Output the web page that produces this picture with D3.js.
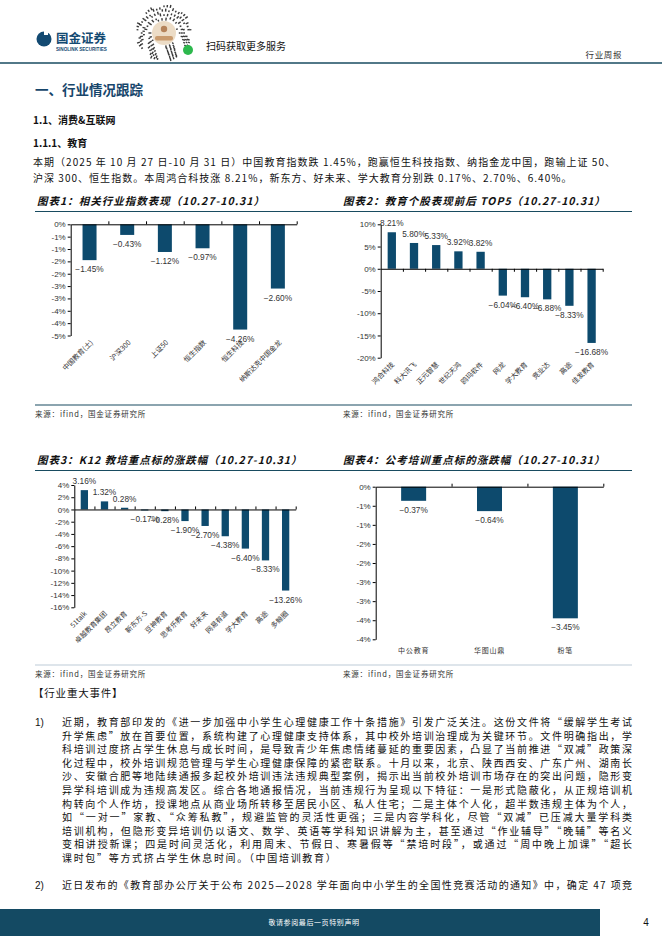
<!DOCTYPE html>
<html>
<head>
<meta charset="utf-8">
<script src="https://cdn.jsdelivr.net/npm/d3@7"></script>
<style>
  body { margin: 0; background: #fff; }
  svg { display: block; }
</style>
</head>
<body>
<svg id="page" width="662" height="936"></svg>
<script>
// chart 1: 相关行业指数表现
const idxNames = ['中国教育(土)', '沪深300', '上证50', '恒生指数', '恒生科技', '纳斯达克中国金龙']
const idxValues = [-1.45, -0.43, -1.12, -0.97, -4.26, -2.60]
const idxTicks = [0, -0.5, -1, -1.5, -2, -2.5, -3, -3.5, -4, -4.5]
const idxTickLabels = ['0%', '-1%', '-1%', '-2%', '-2%', '-3%', '-3%', '-4%', '-4%', '-5%']

// chart 2: 教育个股表现前后 TOP5
const stockNames = ['鸿合科技', '科大讯飞', '正元智慧', '世纪天鸿', '鸥玛软件', '网龙', '学大教育', '竞业达', '高途', '佳发教育']
const stockValues = [8.21, 5.80, 5.33, 3.92, 3.82, -6.04, -6.40, -6.88, -8.33, -16.68]
const stockTicks = [10, 5, 0, -5, -10, -15, -20]
const stockTickLabels = ['10%', '5%', '0%', '-5%', '-10%', '-15%', '-20%']

// chart 3: K12 教培重点标的
const k12Names = ['51talk', '卓越教育集团', '昂立教育', '新东方-S', '豆神教育', '思考乐教育', '好未来', '网易有道', '学大教育', '高途', '多鲸圈']
const k12Values = [3.16, 1.32, 0.28, -0.17, -0.28, -1.90, -2.70, -4.38, -6.40, -8.33, -13.26]
const k12Ticks = [4, 2, 0, -2, -4, -6, -8, -10, -12, -14, -16]
const k12TickLabels = ['4%', '2%', '0%', '-2%', '-4%', '-6%', '-8%', '-10%', '-12%', '-14%', '-16%']

// chart 4: 公考培训重点标的
const civilNames = ['中公教育', '华图山鼎', '粉笔']
const civilValues = [-0.37, -0.64, -3.45]
const civilTicks = [0, -0.5, -1, -1.5, -2, -2.5, -3, -3.5, -4]
const civilTickLabels = ['0%', '-1%', '-1%', '-2%', '-2%', '-3%', '-3%', '-4%', '-4%']

const CN = "'Noto Sans CJK SC', 'Noto Sans', sans-serif"
const NUM = "'Liberation Sans', Arial, sans-serif"
const BLUE = '#0d4a6d'
const TEAL = '#184b60'

const svg = d3.select('#page')

// ---------- page header ----------
const head = svg.append('g')
head.append('circle').attr('cx', 44).attr('cy', 39).attr('r', 7.5).attr('fill', '#134a72')
head.append('rect').attr('x', 44).attr('y', 30).attr('width', 4).attr('height', 5).attr('fill', '#fff')
head.append('text').attr('x', 56).attr('y', 43).text('国金证券')
  .attr('font-family', CN).attr('font-weight', 700).attr('font-size', 12.5).attr('fill', '#134a72')
head.append('text').attr('x', 56).attr('y', 51).text('SINOLINK SECURITIES')
  .attr('font-family', NUM).attr('font-weight', 700).attr('font-size', 4.6).attr('fill', '#134a72')

// mini-program code (decorative)
const qr = head.append('g').attr('transform', 'translate(164,33)')
for (let ring = 0; ring < 7; ring++) {
  const r = 13.5 + ring * 2.2
  const n = 22 + ring * 5
  for (let k = 0; k < n; k++) {
    if ((k * 7 + ring * 5) % 6 > 2) {
      const a = (k / n) * Math.PI * 2
      const cx = Math.cos(a) * r, cy = Math.sin(a) * r
      qr.append('rect').attr('x', cx - 0.9).attr('y', cy - 0.7)
        .attr('width', 1.8 + (k % 3) * 0.6).attr('height', 1.4).attr('fill', '#3a3a3a')
        .attr('transform', `rotate(${a * 180 / Math.PI},${cx},${cy})`)
    }
  }
}
qr.append('circle').attr('r', 12).attr('fill', '#ecdcc6')
qr.append('circle').attr('r', 3.2).attr('cy', -4).attr('fill', '#b5835a')
qr.append('rect').attr('x', -9).attr('y', 3).attr('width', 18).attr('height', 4.5).attr('rx', 2).attr('fill', '#c99b6e')
head.append('circle').attr('cx', 188).attr('cy', 50).attr('r', 5).attr('fill', '#2db84d')

head.append('text').attr('x', 206).attr('y', 50).text('扫码获取更多服务')
  .attr('font-family', CN).attr('font-size', 10).attr('fill', '#111')
head.append('text').attr('x', 622).attr('y', 58).attr('text-anchor', 'end').text('行业周报')
  .attr('font-family', CN).attr('font-size', 8.5).attr('letter-spacing', 0.6).attr('fill', '#333')
head.append('line').attr('x1', 0).attr('x2', 662).attr('y1', 63).attr('y2', 63)
  .attr('stroke', TEAL).attr('stroke-width', 1.6)

// ---------- headings & intro ----------
svg.append('text').attr('x', 35).attr('y', 95).text('一、行业情况跟踪')
  .attr('font-family', CN).attr('font-weight', 700).attr('font-size', 13.5).attr('fill', '#17466b')
svg.append('text').attr('x', 33).attr('y', 124).text('1.1、消费&互联网')
  .attr('font-family', CN).attr('font-weight', 700).attr('font-size', 10).attr('fill', '#111')
svg.append('text').attr('x', 33).attr('y', 147).text('1.1.1、教育')
  .attr('font-family', CN).attr('font-weight', 700).attr('font-size', 10).attr('fill', '#111')

const textLine = (x, y, s) => svg.append('text').attr('x', x).attr('y', y).text(s)
  .attr('font-family', CN).attr('font-size', 10).attr('fill', '#111')

// justified lines, last line keeps the same spacing without stretching
const paragraph = (x, y0, step, lines, width, lastFree) => {
  const gaps = []
  const nodes = lines.map((s, i) => textLine(x, y0 + i * step, s))
  nodes.forEach((t, i) => {
    if (lastFree && i === lines.length - 1) return
    const w = t.node().getComputedTextLength()
    gaps.push((width - w) / lines[i].length)
    t.attr('textLength', width).attr('lengthAdjust', 'spacing')
  })
  if (lastFree) nodes[lines.length - 1].attr('letter-spacing', d3.mean(gaps))
}

paragraph(33, 166, 16, [
  '本期（2025 年 10 月 27 日-10 月 31 日）中国教育指数跌 1.45%，跑赢恒生科技指数、纳指金龙中国，跑输上证 50、',
  '沪深 300、恒生指数。本周鸿合科技涨 8.21%，新东方、好未来、学大教育分别跌 0.17%、2.70%、6.40%。'
], 582, true)

// ---------- chart frames ----------
const chartTitle = (x, y, s) => svg.append('text').attr('x', x).attr('y', y).text(s)
  .attr('font-family', CN).attr('font-weight', 700).attr('font-style', 'italic')
  .attr('font-size', 10.5).attr('letter-spacing', 1).attr('fill', '#111')

chartTitle(37, 205, '图表1：相关行业指数表现（10.27-10.31）')
chartTitle(343, 205, '图表2：教育个股表现前后 TOP5（10.27-10.31）')
chartTitle(37, 464, '图表3：K12 教培重点标的涨跌幅（10.27-10.31）')
chartTitle(343, 464, '图表4：公考培训重点标的涨跌幅（10.27-10.31）')

const hline = (x1, x2, y, color, w) => svg.append('line')
  .attr('x1', x1).attr('x2', x2).attr('y1', y).attr('y2', y)
  .attr('stroke', color).attr('stroke-width', w)

hline(35, 632, 211.5, TEAL, 1.2)
hline(35, 632, 405, TEAL, 1.2)
hline(35, 632, 470.5, TEAL, 1.2)
hline(35, 632, 665, '#d3dde4', 1.5)

const source = (x, y) => svg.append('text').attr('x', x).attr('y', y).text('来源：ifind，国金证券研究所')
  .attr('font-family', CN).attr('font-size', 7.5).attr('letter-spacing', 0.8).attr('fill', '#333')
source(35, 417); source(343, 417); source(35, 677); source(343, 677)

// ---------- bar chart ----------
const drawBars = cfg => {
  const g = svg.append('g')
  const x = d3.scaleBand().domain(cfg.cats).range([cfg.left, cfg.right]).padding(0)
  const y = d3.scaleLinear().domain(cfg.domain).range([cfg.top, cfg.bottom])
  const bw = x.bandwidth()

  g.selectAll('rect.bar')
    .data(cfg.values)
    .enter()
    .append('rect')
    .attr('x', (d, i) => x(cfg.cats[i]) + (bw - cfg.barW) / 2)
    .attr('y', d => Math.min(y(d), y(0)))
    .attr('width', cfg.barW)
    .attr('height', d => Math.abs(y(d) - y(0)))
    .attr('fill', BLUE)

  // y axis
  const yAxis = g.append('g').attr('transform', `translate(${cfg.left},0)`)
    .call(d3.axisLeft(y).tickValues(cfg.ticks).tickFormat((d, i) => cfg.tickLabels[i]).tickSize(3).tickSizeOuter(0))
  yAxis.select('.domain').attr('stroke', '#000').attr('stroke-width', 1)
  yAxis.selectAll('.tick line').attr('stroke', '#000')
  yAxis.selectAll('.tick text').attr('font-family', NUM).attr('font-size', 8).attr('fill', '#333').attr('x', -5)

  // category axis at zero
  const bx = d3.scaleLinear().domain([0, cfg.cats.length]).range([cfg.left, cfg.right])
  const axisGen = cfg.tickDown ? d3.axisBottom(bx) : d3.axisTop(bx)
  const xAxis = g.append('g').attr('transform', `translate(0,${y(0)})`)
    .call(axisGen.tickValues(d3.range(1, cfg.cats.length + 1)).tickFormat('').tickSize(3).tickSizeOuter(0))
  xAxis.select('.domain').attr('stroke', '#000').attr('stroke-width', 1)
  xAxis.selectAll('.tick line').attr('stroke', '#000')

  // value labels
  g.selectAll('text.val')
    .data(cfg.values)
    .enter()
    .append('text')
    .attr('x', (d, i) => x(cfg.cats[i]) + bw / 2)
    .attr('y', d => d >= 0 ? y(d) - 6 : y(d) + 12)
    .attr('text-anchor', 'middle')
    .attr('font-family', NUM).attr('font-size', 8.3).attr('fill', '#333')
    .text(d => d3.format('.2f')(d) + '%')

  // category labels
  const cl = g.selectAll('text.cat')
    .data(cfg.cats)
    .enter()
    .append('text')
    .attr('font-family', CN).attr('font-size', 7).attr('fill', '#333')
    .text(d => d)
  if (cfg.rotate) {
    cl.attr('text-anchor', 'end')
      .attr('transform', d => `translate(${x(d) + bw / 2 + cfg.labelDx},${cfg.labelY}) rotate(-45)`)
  } else {
    cl.attr('text-anchor', 'middle').attr('letter-spacing', 0.8)
      .attr('x', d => x(d) + bw / 2)
      .attr('y', cfg.labelY)
  }
}

drawBars({
  cats: idxNames, values: idxValues, ticks: idxTicks, tickLabels: idxTickLabels,
  domain: [0, -4.5], left: 70.7, right: 296.7, top: 224.3, bottom: 335.5,
  barW: 14, rotate: true, labelDx: 4, labelY: 343
})

drawBars({
  cats: stockNames, values: stockValues, ticks: stockTicks, tickLabels: stockTickLabels,
  domain: [10, -20], left: 380.7, right: 602.7, top: 224.3, bottom: 357.7,
  barW: 8.3, rotate: true, tickDown: true, labelDx: 3, labelY: 365
})

drawBars({
  cats: k12Names, values: k12Values, ticks: k12Ticks, tickLabels: k12TickLabels,
  domain: [4, -16], left: 74.3, right: 295.7, top: 485, bottom: 607.3,
  barW: 7.3, rotate: true, labelDx: 3, labelY: 614
})

drawBars({
  cats: civilNames, values: civilValues, ticks: civilTicks, tickLabels: civilTickLabels,
  domain: [0, -4], left: 375.7, right: 603.3, top: 486.7, bottom: 639.3,
  barW: 25, rotate: false, labelY: 653
})

// ---------- events ----------
svg.append('text').attr('x', 33).attr('y', 697).text('【行业重大事件】')
  .attr('font-family', CN).attr('font-size', 10.5).attr('letter-spacing', 0.8).attr('fill', '#111')

const evLines = [
  '近期，教育部印发的《进一步加强中小学生心理健康工作十条措施》引发广泛关注。这份文件将“缓解学生考试',
  '升学焦虑”放在首要位置，系统构建了心理健康支持体系，其中校外培训治理成为关键环节。文件明确指出，学',
  '科培训过度挤占学生休息与成长时间，是导致青少年焦虑情绪蔓延的重要因素，凸显了当前推进“双减”政策深',
  '化过程中，校外培训规范管理与学生心理健康保障的紧密联系。十月以来，北京、陕西西安、广东广州、湖南长',
  '沙、安徽合肥等地陆续通报多起校外培训违法违规典型案例，揭示出当前校外培训市场存在的突出问题，隐形变',
  '异学科培训成为违规高发区。综合各地通报情况，当前违规行为呈现以下特征：一是形式隐蔽化，从正规培训机',
  '构转向个人作坊，授课地点从商业场所转移至居民小区、私人住宅；二是主体个人化，超半数违规主体为个人，',
  '如“一对一”家教、“众筹私教”，规避监管的灵活性更强；三是内容学科化，尽管“双减”已压减大量学科类',
  '培训机构，但隐形变异培训仍以语文、数学、英语等学科知识讲解为主，甚至通过“作业辅导”“晚辅”等名义',
  '变相讲授新课；四是时间灵活化，利用周末、节假日、寒暑假等“禁培时段”，或通过“周中晚上加课”“超长',
  '课时包”等方式挤占学生休息时间。（中国培训教育）'
]
const evTop = 726, evStep = 13.6
svg.append('text').attr('x', 35).attr('y', evTop).text('1)')
  .attr('font-family', NUM).attr('font-size', 10).attr('fill', '#111')
paragraph(62, evTop, evStep, evLines, 570, true)

const ev2Y = evTop + 10 * evStep + 27
svg.append('text').attr('x', 35).attr('y', ev2Y).text('2)')
  .attr('font-family', NUM).attr('font-size', 10).attr('fill', '#111')
paragraph(62, ev2Y, evStep, ['近日发布的《教育部办公厅关于公布 2025—2028 学年面向中小学生的全国性竞赛活动的通知》中，确定 47 项竞'], 570, false)

// ---------- footer ----------
svg.append('rect').attr('x', 0).attr('y', 909).attr('width', 600).attr('height', 27).attr('fill', '#144a63')
svg.append('text').attr('x', 314).attr('y', 925).attr('text-anchor', 'middle').text('敬请参阅最后一页特别声明')
  .attr('font-family', CN).attr('font-size', 7).attr('letter-spacing', 0.6).attr('fill', '#fff')
svg.append('text').attr('x', 646).attr('y', 926).attr('text-anchor', 'middle').text('4')
  .attr('font-family', NUM).attr('font-size', 10).attr('fill', '#111')
</script>
</body>
</html>
